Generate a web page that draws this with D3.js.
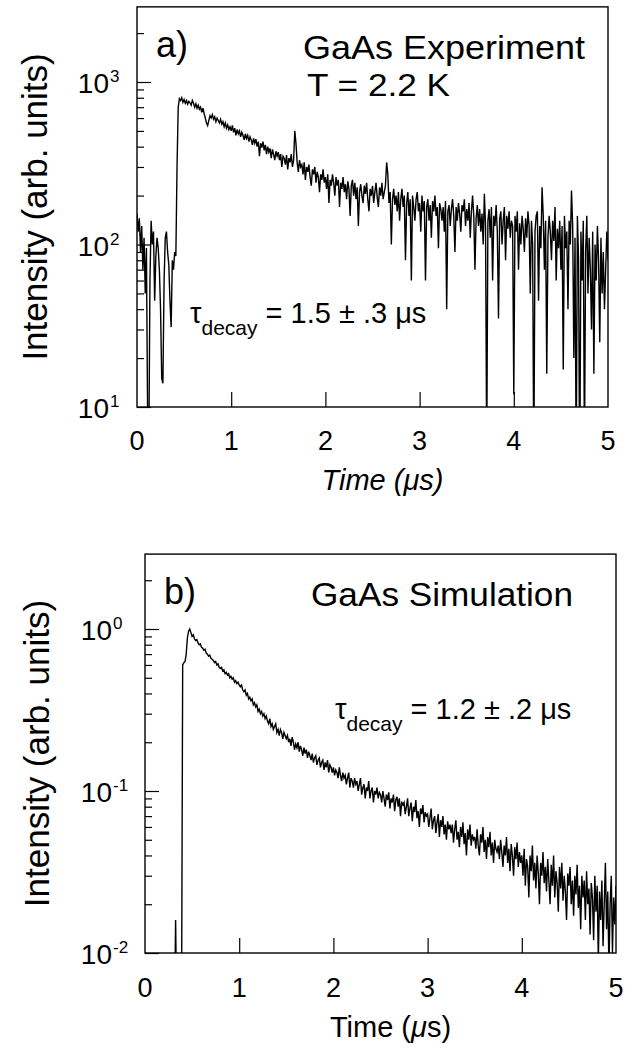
<!DOCTYPE html>
<html><head><meta charset="utf-8">
<script src="https://cdn.jsdelivr.net/npm/d3@7"></script>
<style>body{margin:0;background:#fff}svg{display:block}text{font-family:"Liberation Sans",Arial,sans-serif;fill:#000}</style>
</head><body>
<script>
// ---------- DATA ----------
const xTicks = [0, 1, 2, 3, 4, 5];
const expTicks = [1, 2, 3];          // exponents, panel a (10^1..10^3)
const simTicks = [-2, -1, 0];        // exponents, panel b
const expStart = 0, expStep = 0.0125; // time grid (μs) of the experiment trace
const expIntensity = [
 155,120,145,90,130,70,110,50,95,9,5,60,140,100,120,45,85,110,95,70,
 40,15,14,60,110,120,90,75,45,31,80,70,90,85,300,700,790,770,800,750,
 780,740,770,730,760,745,720,770,740,700,735,690,720,680,700,650,690,640,600,560,
 540,580,620,600,630,590,610,570,600,580,560,590,550,570,530,560,520,545,510,530,
 500,540,490,520,470,510,480,500,460,490,470,440,480,450,470,430,460,440,410,450,
 420,445,400,430,350,420,395,430,380,410,360,400,370,390,340,385,360,330,375,350,
 370,330,360,300,350,340,310,355,290,340,320,360,300,330,500,420,320,280,330,300,
 310,270,320,250,300,280,310,260,230,290,270,300,240,280,260,210,270,250,290,240,
 260,220,270,180,250,230,270,240,200,260,230,250,170,240,220,260,210,235,190,245,
 220,150,230,250,200,240,190,225,130,210,235,200,180,230,205,240,190,160,220,200,
 230,180,210,240,195,170,225,200,240,190,210,230,320,270,180,210,100,190,220,175,
 200,160,210,140,190,220,170,200,80,180,210,150,190,60,200,170,140,190,210,160,
 180,120,200,160,185,60,170,190,140,175,110,185,160,200,150,170,95,180,165,140,
 170,120,185,40,160,175,130,165,190,150,90,170,140,180,155,120,175,160,190,130,
 165,140,180,110,160,200,150,70,145,175,130,165,120,155,100,205,130,5,140,165,
 110,170,60,150,130,175,120,35,145,160,100,140,170,80,150,125,160,110,140,130,
 12,150,120,160,70,135,100,150,125,90,145,110,160,130,50,140,100,4,120,150,
 160,45,130,95,225,150,70,140,16,110,150,120,80,140,105,170,60,125,95,140,
 70,130,17,150,95,120,40,140,100,215,130,20,110,4,150,80,3,120,60,140,
 5,90,150,50,110,70,30,120,16,100,60,130,80,25,110,50,90,40,70,120,
 80
];
const simStart = 0.3, simStep = 0.0125; // time grid (μs) of the simulation trace
const simIntensity = [
 0.004,0.004,0.016,0.004,0.004,0.004,0.004,0.004,0.60,0.62,0.63,0.70,0.88,0.97,1.00,0.95,
 0.90,0.92,0.87,0.85,0.86,0.82,0.80,0.81,0.77,0.76,0.74,0.75,0.71,0.70,0.68,0.69,0.66,0.65,0.64,0.62,
 0.63,0.60,0.61,0.58,0.57,0.58,0.55,0.56,0.53,0.54,0.52,0.53,0.50,0.51,0.49,0.50,0.47,0.48,0.46,0.47,
 0.45,0.44,0.45,0.42,0.41,0.42,0.39,0.40,0.37,0.38,0.36,0.37,0.34,0.35,0.33,0.34,0.31,0.32,0.30,0.31,
 0.29,0.30,0.28,0.29,0.27,0.26,0.28,0.25,0.26,0.24,0.25,0.26,0.23,0.24,0.22,0.24,0.23,0.21,0.23,0.22,
 0.21,0.22,0.20,0.21,0.19,0.215,0.20,0.18,0.195,0.185,0.20,0.175,0.19,0.18,0.165,0.185,0.17,0.18,0.16,0.175,
 0.165,0.155,0.17,0.15,0.16,0.165,0.145,0.155,0.16,0.14,0.15,0.155,0.135,0.15,0.14,0.155,0.13,0.145,0.14,0.13,
 0.14,0.125,0.135,0.13,0.12,0.14,0.125,0.115,0.13,0.12,0.125,0.11,0.12,0.13,0.105,0.12,0.115,0.105,0.12,0.11,
 0.115,0.10,0.11,0.12,0.095,0.105,0.11,0.09,0.105,0.10,0.115,0.09,0.10,0.105,0.085,0.10,0.095,0.105,0.09,0.098,
 0.095,0.085,0.10,0.09,0.08,0.095,0.088,0.098,0.078,0.09,0.085,0.095,0.075,0.088,0.092,0.08,0.09,0.07,0.086,0.082,
 0.085,0.072,0.08,0.09,0.07,0.078,0.085,0.065,0.08,0.074,0.088,0.068,0.075,0.06,0.078,0.072,0.082,0.064,0.074,0.07,
 0.072,0.06,0.068,0.078,0.058,0.066,0.07,0.055,0.064,0.072,0.052,0.066,0.06,0.07,0.054,0.062,0.05,0.065,0.058,0.062,
 0.055,0.062,0.048,0.058,0.066,0.05,0.056,0.045,0.06,0.052,0.064,0.047,0.055,0.04,0.058,0.05,0.062,0.046,0.054,0.05,
 0.052,0.044,0.058,0.046,0.04,0.054,0.048,0.06,0.042,0.05,0.038,0.052,0.045,0.056,0.04,0.048,0.036,0.05,0.044,0.042,
 0.046,0.038,0.05,0.042,0.034,0.046,0.04,0.052,0.036,0.044,0.032,0.047,0.04,0.03,0.045,0.038,0.048,0.034,0.042,0.036,
 0.04,0.03,0.044,0.026,0.038,0.034,0.022,0.04,0.032,0.046,0.028,0.036,0.025,0.04,0.031,0.02,0.036,0.03,0.042,0.027,
 0.034,0.024,0.038,0.028,0.02,0.035,0.026,0.04,0.022,0.032,0.027,0.018,0.034,0.025,0.036,0.021,0.03,0.024,0.016,0.031,
 0.026,0.034,0.02,0.028,0.017,0.03,0.023,0.035,0.019,0.026,0.014,0.03,0.022,0.028,0.016,0.032,0.02,0.025,0.013,0.027,
 0.022,0.012,0.03,0.018,0.026,0.009,0.024,0.016,0.028,0.011,0.02,0.036,0.014,0.024,0.008,0.02,0.03,0.01,0.022,0.015,
 0.026
];
const panelLabels = ["a)", "b)"];
const titles = ["GaAs Experiment", "GaAs Simulation"];
const tempLabel = "T = 2.2 K";
const tauValues = ["1.5 ± .3", "1.2 ± .2"];

// ---------- DRAW ----------
const svg = d3.select("body").append("svg").attr("width", 633).attr("height", 1053);

function panel(cfg) {
  const x = d3.scaleLinear().domain([0, 5]).range([cfg.left, cfg.right]);
  const y = d3.scaleLog().domain([Math.pow(10, cfg.decLo), Math.pow(10, cfg.decLo + 1)])
              .range([cfg.bottom, cfg.bottom - cfg.decade]);
  const top = y(cfg.yMax);
  const g = svg.append("g");
  const cid = "clip" + cfg.id;
  svg.append("clipPath").attr("id", cid).append("rect")
     .attr("x", cfg.left).attr("y", top).attr("width", cfg.right - cfg.left).attr("height", cfg.bottom - top);

  // data line
  const pts = cfg.values.map((v, i) => [cfg.t0 + i * cfg.dt, v]);
  const line = d3.line().x(d => x(d[0])).y(d => y(Math.max(d[1], 1e-6)));
  g.append("path").datum(pts).attr("clip-path", `url(#${cid})`)
   .attr("d", line).attr("fill", "none").attr("stroke", "#000").attr("stroke-width", 1.4)
   .attr("stroke-linejoin", "miter");

  // y ticks (inward)
  const exps = cfg.exps;
  const minor = [];
  for (let e = exps[0]; e <= exps[exps.length - 1]; e++)
    for (let m = 2; m <= 9; m++) { const v = m * Math.pow(10, e); if (v < cfg.yMax) minor.push(v); }
  const majors = exps.map(e => Math.pow(10, e));
  g.append("g").attr("transform", `translate(${cfg.left},0)`)
   .call(d3.axisRight(y).tickValues(minor).tickSize(7).tickFormat(""))
   .call(a => a.select(".domain").remove())
   .selectAll("line").attr("stroke-width", 1.2);
  g.append("g").attr("transform", `translate(${cfg.left},0)`)
   .call(d3.axisRight(y).tickValues(majors).tickSize(14).tickFormat(""))
   .call(a => a.select(".domain").remove())
   .selectAll("line").attr("stroke-width", 1.2);
  // x ticks (inward)
  g.append("g").attr("transform", `translate(0,${cfg.bottom})`)
   .call(d3.axisTop(x).tickValues([1, 2, 3, 4]).tickSize(15).tickFormat(""))
   .call(a => a.select(".domain").remove())
   .selectAll("line").attr("stroke-width", 1.2);

  // frame
  g.append("rect").attr("x", cfg.left).attr("y", top).attr("width", cfg.right - cfg.left)
   .attr("height", cfg.bottom - top).attr("fill", "none").attr("stroke", "#000").attr("stroke-width", 1.4);

  // y tick labels
  exps.forEach(e => {
    g.append("text").attr("x", cfg.labX).attr("y", y(Math.pow(10, e)) + 11)
      .attr("text-anchor", "end").style("font-size", "28px").text("10");
    g.append("text").attr("x", cfg.labX + 1).attr("y", y(Math.pow(10, e)))
      .style("font-size", "17px").text(e);
  });
  // x tick labels
  xTicks.forEach(v => {
    g.append("text").attr("x", x(v)).attr("y", cfg.xLabY).attr("text-anchor", "middle")
     .style("font-size", "27px").text(v);
  });
  // x title
  const xt = g.append("text").attr("x", (cfg.left + cfg.right) / 2 + 10).attr("y", cfg.xTitleY)
     .attr("text-anchor", "middle").style("font-size", "29px");
  if (cfg.italicTitle) {
    xt.style("font-style", "italic").text("Time (μs)");
  } else {
    xt.append("tspan").text("Time (");
    xt.append("tspan").style("font-style", "italic").text("μ");
    xt.append("tspan").text("s)");
  }
  // y title
  g.append("text").attr("transform", `translate(${cfg.yTitleX},${(top + cfg.bottom) / 2}) rotate(-90)`)
   .attr("text-anchor", "middle").style("font-size", "35px").text("Intensity (arb. units)");

  // annotations
  g.append("text").attr("x", cfg.left + 19).attr("y", cfg.annY).style("font-size", "36px").text(cfg.label);
  g.append("text").attr("x", cfg.titleX).attr("y", cfg.annY + 2).style("font-size", "33px")
   .attr("textLength", cfg.titleLen).attr("lengthAdjust", "spacingAndGlyphs").text(cfg.title);
  if (cfg.temp) g.append("text").attr("x", cfg.titleX + 4).attr("y", cfg.annY + 39).style("font-size", "32px")
   .attr("textLength", 143).attr("lengthAdjust", "spacingAndGlyphs").text(cfg.temp);
  const tau = g.append("text").attr("x", cfg.tauX).attr("y", cfg.tauY).style("font-size", "29px");
  tau.append("tspan").text("τ");
  tau.append("tspan").attr("dy", 12).style("font-size", "21px").text("decay");
  tau.append("tspan").attr("dy", -12).text(" = " + cfg.tau + " μs");
}

panel({id: "a", left: 137, right: 608, bottom: 407, decade: 162.5, decLo: 1, yMax: 2900,
  exps: expTicks, values: expIntensity, t0: expStart, dt: expStep, labX: 109,
  xLabY: 450, xTitleY: 490, italicTitle: true, yTitleX: 47,
  label: panelLabels[0], title: titles[0], temp: tempLabel, titleX: 303, titleLen: 282, annY: 57,
  tau: tauValues[0], tauX: 190, tauY: 323});
panel({id: "b", left: 145, right: 616, bottom: 953, decade: 162, decLo: -2, yMax: 2.9,
  exps: simTicks, values: simIntensity, t0: simStart, dt: simStep, labX: 112,
  xLabY: 997, xTitleY: 1037, italicTitle: false, yTitleX: 49,
  label: panelLabels[1], title: titles[1], temp: null, titleX: 311, titleLen: 262, annY: 604,
  tau: tauValues[1], tauX: 335, tauY: 719});
</script>
</body></html>
